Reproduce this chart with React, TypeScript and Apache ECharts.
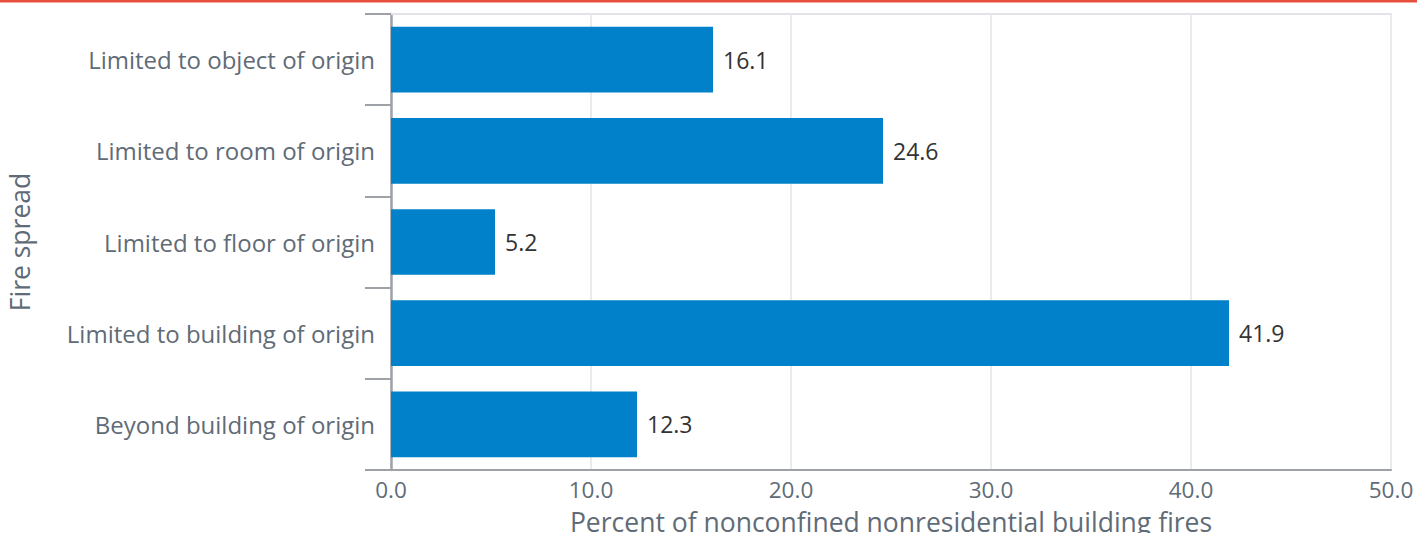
import React, { useEffect, useRef } from "react";
import * as echarts from "echarts";

const categories = [
  "Limited to object of origin",
  "Limited to room of origin",
  "Limited to floor of origin",
  "Limited to building of origin",
  "Beyond building of origin",
];
const values = [16.1, 24.6, 5.2, 41.9, 12.3];
const xTicks = { min: 0, max: 50, interval: 10 };

export default function App() {
  const ref = useRef<HTMLDivElement>(null);
  useEffect(() => {
    if (!ref.current) return;
    const chart = echarts.init(ref.current, undefined, { renderer: "svg" });
    const font = "'Open Sans', 'Noto Sans', sans-serif";
    chart.setOption({
      animation: false,
      textStyle: { fontFamily: font },
      graphic: [
        {
          type: "rect",
          left: 0,
          top: 0,
          shape: { width: 1417, height: 2.5 },
          style: { fill: "#e8503e" },
        },
      ],
      grid: {
        left: 391,
        right: 26,
        top: 14,
        bottom: 63,
        containLabel: false,
        outerBoundsMode: "none",
      },
      xAxis: [
        {
          type: "value",
          min: xTicks.min,
          max: xTicks.max,
          interval: xTicks.interval,
          name: "Percent of nonconfined nonresidential building fires",
          nameLocation: "middle",
          nameGap: 38,
          nameTextStyle: { fontSize: 26.5, color: "#5f6b76", fontFamily: font },
          axisLine: { show: true, lineStyle: { color: "#9ea2a6", width: 2 } },
          axisTick: { show: false },
          axisLabel: {
            fontSize: 22.5,
            color: "#5f6b76",
            margin: 8,
            formatter: (v: number) => v.toFixed(1),
            fontFamily: font,
          },
          splitLine: { show: true, lineStyle: { color: "#e2e4e7", width: 1.5 } },
        },
        {
          type: "value",
          position: "top",
          min: xTicks.min,
          max: xTicks.max,
          interval: xTicks.interval,
          axisLine: { show: true, lineStyle: { color: "#e2e4e7", width: 2 } },
          axisTick: { show: false },
          axisLabel: { show: false },
          splitLine: { show: false },
        },
      ],
      yAxis: {
        type: "category",
        data: categories,
        inverse: true,
        name: "Fire spread",
        nameLocation: "middle",
        nameGap: 358,
        nameTextStyle: { fontSize: 26.5, color: "#5f6b76", fontFamily: font },
        axisLine: { show: true, lineStyle: { color: "#9ea2a6", width: 2.5 } },
        axisTick: { show: true, length: 26, lineStyle: { color: "#9ea2a6", width: 2 } },
        axisLabel: { fontSize: 24, color: "#5f6b76", margin: 16, fontFamily: font },
      },
      series: [
        {
          type: "bar",
          data: values,
          barCategoryGap: "28%",
          itemStyle: { color: "#0081c9" },
          label: {
            show: true,
            position: "right",
            distance: 10,
            fontSize: 23,
            color: "#333333",
            fontFamily: font,
            formatter: (p: any) => Number(p.value).toFixed(1),
          },
        },
      ],
    });
    return () => chart.dispose();
  }, []);
  return (
    <div
      ref={ref}
      style={{ position: "absolute", left: 0, top: 0, width: 1417, height: 533 }}
    />
  );
}
